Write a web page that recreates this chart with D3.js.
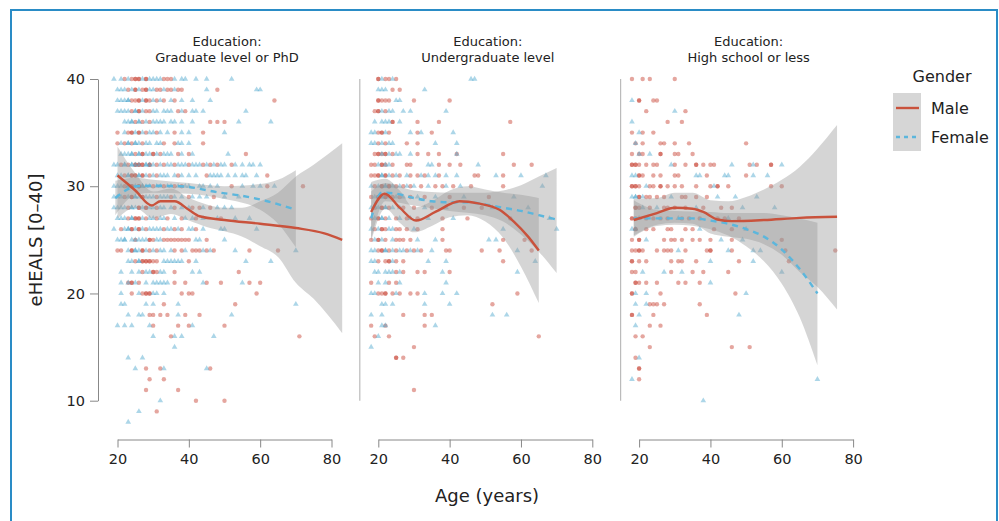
<!DOCTYPE html>
<html>
<head>
<meta charset="utf-8">
<script src="https://cdn.jsdelivr.net/npm/d3@7"></script>
<style>
  body { margin: 0; background: #fff; }
  svg text { font-family: "DejaVu Sans", sans-serif; fill: #222; }
</style>
</head>
<body>
<svg id="chart" width="999" height="521"></svg>
<script>
// panels / facets
const panelTitles = ["Graduate level or PhD", "Undergraduate level", "High school or less"];
const xTicks = [20, 40, 60, 80];
const yTicks = [10, 20, 30, 40];

// scatter rows: [eHEALS score, [ages]] (repeated ages = several respondents)
const gradMale = [
  [40, [22, 24, 25, 25, 26, 26, 28, 28, 33, 34, 35]],
  [39, [23, 25, 25, 27, 28, 28, 31, 32, 34, 35, 37, 38, 48]],
  [38, [24, 25, 26, 26, 28, 28, 29, 31, 33, 36, 64]],
  [37, [24, 26, 26, 28, 29, 37, 39]],
  [36, [25, 27, 29, 46, 48, 50]],
  [35, [20, 23, 24, 24, 26, 26, 28, 31, 36, 44]],
  [34, [20, 22, 24, 27, 33, 36, 44]],
  [33, [25, 27, 27, 30, 30, 32, 37, 40, 56]],
  [32, [21, 23, 25, 25, 26, 26, 27, 27, 29, 29, 31, 33, 36, 40, 44, 46, 48, 52]],
  [31, [22, 24, 24, 25, 25, 27, 27, 29, 31, 37, 45, 62]],
  [30, [22, 24, 24, 26, 26, 30, 33, 36, 38, 52, 62, 72]],
  [29, [22, 24, 24, 27, 27, 31, 35, 40, 47]],
  [28, [23, 26, 26, 28, 28, 31, 36, 41, 43, 46]],
  [27, [23, 25, 25, 26, 26, 28, 31, 34, 38, 42, 49]],
  [26, [21, 24, 24, 26, 26, 28, 33, 36, 38, 42]],
  [25, [25, 29, 29, 30, 33, 34, 35, 36, 37, 38, 39, 40, 45]],
  [24, [20, 21, 24, 24, 27, 27, 29, 31, 36, 38, 41, 42, 43, 45, 47, 57, 65]],
  [23, [25, 27, 27, 28, 28, 29, 29, 30, 31, 40]],
  [22, [27, 30, 30, 31, 36, 54]],
  [21, [23, 24, 24, 26, 36, 39, 45, 49, 57, 60]],
  [20, [24, 27, 28, 28, 29, 29, 38, 40, 41, 59]],
  [19, [33, 53]],
  [18, [29, 30, 32, 34, 39, 43]],
  [17, [30, 37, 40, 50]],
  [16, [35, 71]],
  [13, [28, 32, 46]],
  [12, [29, 33]],
  [11, [28, 37]],
  [10, [42, 50]],
  [9, [31]]
];
const gradFemale = [
  [40, [19, 21, 23, 27, 29, 30, 31, 32, 36, 38, 39, 42, 45, 52]],
  [39, [20, 21, 22, 24, 26, 29, 30, 33, 36, 45, 59, 60]],
  [38, [20, 21, 22, 23, 23, 27, 30, 32, 35, 38, 41, 46]],
  [37, [20, 21, 22, 23, 25, 25, 27, 30, 31, 33, 34, 35, 38, 41, 42, 44, 56]],
  [36, [22, 23, 24, 24, 26, 26, 28, 30, 31, 32, 33, 35, 36, 38, 41, 54, 63]],
  [35, [22, 25, 27, 29, 30, 32, 34, 38, 40, 50]],
  [34, [21, 23, 23, 25, 25, 26, 28, 29, 31, 32, 37, 38, 40]],
  [33, [21, 22, 23, 24, 24, 26, 26, 28, 29, 31, 33, 34, 35, 38, 41, 51]],
  [32, [19, 20, 22, 22, 24, 24, 25, 26, 28, 28, 29, 30, 32, 34, 35, 37, 38, 39, 41, 42, 43, 45, 47, 49, 50, 53, 55, 57, 58, 60]],
  [31, [20, 21, 23, 23, 26, 26, 28, 30, 32, 33, 34, 36, 38, 40, 42, 46, 47, 48, 49, 51, 53, 55, 56, 59]],
  [30, [19, 20, 21, 23, 23, 25, 27, 27, 28, 29, 31, 32, 34, 35, 37, 39, 40, 43, 44, 46, 48, 55, 58, 60, 64]],
  [29, [19, 20, 21, 23, 25, 25, 26, 28, 29, 30, 32, 33, 34, 36, 38, 41, 43, 45, 50, 54]],
  [28, [19, 20, 21, 22, 24, 24, 25, 27, 29, 30, 32, 33, 35, 38, 40, 44, 48, 50, 52]],
  [27, [20, 21, 22, 24, 24, 27, 29, 30, 32, 33, 36, 39, 41, 44, 48, 53, 57]],
  [26, [19, 22, 23, 23, 25, 27, 29, 30, 31, 32, 34, 35, 37, 40, 41, 44, 49, 50, 59]],
  [25, [20, 21, 22, 22, 24, 25, 26, 27, 28, 31, 32, 42, 43, 50]],
  [24, [23, 25, 25, 26, 28, 30, 32, 33, 35, 39, 44, 46, 53, 70]],
  [23, [23, 24, 26, 26, 33, 34, 35, 36, 37, 38, 42, 56, 63]],
  [22, [21, 24, 26, 28, 29, 32, 33, 41, 43]],
  [21, [21, 23, 25, 28, 30, 31, 32, 33, 34, 44, 55]],
  [20, [21, 26, 30, 31, 33]],
  [19, [21, 22, 28, 30, 37, 70]],
  [18, [23, 26, 27, 37, 52]],
  [17, [20, 22, 24, 29, 41]],
  [16, [30, 36, 38, 47]],
  [15, [36]],
  [14, [23, 27]],
  [13, [25, 33, 45]],
  [10, [32]],
  [9, [26]],
  [8, [23]]
];
const underMale = [
  [40, [20, 20, 22, 23, 25]],
  [39, [24, 26]],
  [38, [20, 20, 21, 22, 23, 30, 40]],
  [37, [19, 20, 20, 22]],
  [36, [24, 24, 31, 37, 57]],
  [35, [20, 21, 21, 23, 31, 35]],
  [34, [20, 22, 28, 31]],
  [33, [19, 20, 20, 21, 22, 22, 24, 31, 34, 37, 42, 55]],
  [32, [18, 19, 21, 21, 22, 24, 28, 29, 37, 40, 43, 58, 63]],
  [31, [18, 19, 20, 20, 22, 22, 24, 26, 29, 31, 33, 37, 47, 48, 55]],
  [30, [19, 21, 21, 23, 23, 25, 27, 29, 32, 36, 38, 41, 46, 55]],
  [29, [18, 20, 20, 22, 22, 24, 26, 29, 33, 40, 51]],
  [28, [19, 21, 21, 23, 27, 30, 35, 44, 49]],
  [27, [18, 20, 20, 22, 25, 28, 31, 38, 45, 57]],
  [26, [19, 21, 21, 22, 25, 26, 28, 31, 38]],
  [25, [18, 20, 20, 22, 25, 26, 27, 29, 38, 55, 61]],
  [24, [20, 21, 21, 23, 25, 28, 30, 32, 39, 40, 49, 54, 63]],
  [23, [20, 22, 23, 23, 25, 27, 55]],
  [22, [25, 27, 31, 33, 40]],
  [21, [18, 23, 25]],
  [20, [20, 21, 22, 22, 24, 26, 29, 31, 59]],
  [19, [52]],
  [18, [27, 33, 35]],
  [17, [18, 22, 33]],
  [16, [19, 23, 65]],
  [15, [30]],
  [14, [25, 25, 27]],
  [11, [30]]
];
const underFemale = [
  [40, [21, 24, 46, 47]],
  [39, [20, 21, 22, 33]],
  [38, [25, 26]],
  [37, [21, 23, 24, 27, 29, 39]],
  [36, [19, 21, 22, 23, 26]],
  [35, [18, 19, 22, 29, 32, 41]],
  [34, [18, 19, 21, 23, 24, 36, 42]],
  [33, [21, 23, 25, 26, 29, 42]],
  [32, [20, 22, 23, 34, 35, 48]],
  [31, [21, 21, 23, 25, 28, 32, 34, 36, 39, 42, 53, 60, 67]],
  [30, [18, 20, 22, 22, 24, 26, 28, 30, 34, 39, 43, 66]],
  [29, [19, 21, 21, 23, 25, 27, 31, 36, 44, 58]],
  [28, [18, 20, 22, 22, 24, 26, 33, 39, 52, 62]],
  [27, [19, 21, 21, 23, 26, 29, 34, 41, 68]],
  [26, [18, 20, 23, 24, 30, 55, 70]],
  [25, [19, 21, 24, 31, 36, 51, 53]],
  [24, [18, 19, 22, 22, 24, 26, 27, 29, 31, 35, 59]],
  [23, [18, 19, 24, 34, 39, 64]],
  [22, [19, 20, 22, 23, 24, 26, 38, 59]],
  [21, [20, 22, 26, 39]],
  [20, [18, 19, 25, 33, 38, 42]],
  [19, [21, 22, 24, 33, 40]],
  [18, [18, 21, 52, 56]],
  [17, [21, 22, 36]],
  [16, [20]],
  [15, [18]]
];
const highMale = [
  [40, [18, 21, 23, 30]],
  [38, [20, 20, 24, 25]],
  [37, [22, 33]],
  [36, [28, 32]],
  [35, [18, 21, 24]],
  [34, [19, 21, 26, 27, 30, 34, 50]],
  [33, [18, 20, 21, 26, 26, 30, 31, 35]],
  [32, [18, 18, 19, 19, 20, 22, 24, 25, 30, 33, 36, 36, 38, 40, 41, 51, 53, 57, 57]],
  [31, [20, 20, 21, 24, 26, 30, 31, 39, 50]],
  [30, [18, 18, 19, 19, 20, 23, 24, 26, 26, 28, 30, 32, 36, 40, 42, 42, 45, 57, 60]],
  [29, [20, 20, 22, 23, 25, 27, 32, 33, 36, 39]],
  [28, [19, 19, 20, 23, 27, 28, 30, 33, 38, 43, 46]],
  [27, [18, 18, 19, 22, 24, 26, 28, 32, 34, 37, 42, 44, 48]],
  [26, [19, 19, 22, 24, 28, 29, 33, 35, 41, 46]],
  [25, [18, 20, 20, 27, 29, 30, 32, 35, 37, 40, 46, 60]],
  [24, [18, 19, 20, 20, 21, 25, 27, 28, 29, 33, 39, 40, 40, 46, 61, 75]],
  [23, [18, 18, 20, 22, 29, 31, 32, 36, 48, 62]],
  [22, [18, 19, 29, 35, 38, 45]],
  [21, [19, 19, 20, 22, 25, 31, 33, 37]],
  [20, [18, 18, 26, 47]],
  [19, [23, 24, 25, 27, 37]],
  [18, [18, 18, 24, 39]],
  [17, [23, 26]],
  [16, [19, 21]],
  [15, [23, 46, 51]],
  [14, [19]],
  [13, [20, 20]],
  [12, [20]]
];
const highFemale = [
  [38, [18]],
  [37, [30]],
  [36, [18]],
  [35, [20]],
  [34, [19]],
  [33, [20, 23]],
  [32, [29, 46, 52, 60]],
  [31, [18, 19, 36, 37, 44, 45, 52, 56]],
  [30, [22, 41]],
  [29, [18, 19, 19, 21, 29, 42, 47, 53]],
  [28, [21, 25, 36, 49, 58]],
  [27, [20, 31, 45]],
  [26, [18, 19, 37, 50]],
  [25, [22, 43, 49]],
  [24, [31, 45, 52, 54]],
  [23, [40, 52]],
  [22, [21, 27, 32, 60]],
  [21, [40]],
  [20, [19, 22, 50]],
  [19, [19, 22]],
  [18, [20, 48]],
  [17, [19]],
  [14, [20]],
  [12, [18, 70]],
  [10, [38]]
];

// smooth fits: [age, fit] and confidence bands: [age, lower, upper]
const gradMaleFit = [[20, 31], [25, 29.6], [29.6, 28.2], [32, 28.6], [36, 28.6], [40, 27.8], [43, 27.2], [50, 26.85], [60, 26.5], [70, 26.1], [78, 25.6], [83, 25]];
const gradMaleBand = [[20, 27, 33.7], [25, 28, 31.2], [30, 27, 29.5], [35, 27.4, 29.8], [40, 26.8, 28.9], [45, 26.2, 28.3], [50, 25.8, 28], [55, 25.3, 28], [60, 24.4, 28.6], [65, 23.4, 29.4], [70, 21, 30.9], [75, 19.5, 32], [83, 16.3, 34]];
const gradFemaleFit = [[19.4, 28.9], [25.4, 30], [30, 30.05], [37.6, 30], [48.8, 29.4], [55, 29.1], [62, 28.6], [70, 27.8]];
const gradFemaleBand = [[19.4, 27.3, 30.5], [25, 29.2, 30.8], [30, 29.4, 30.6], [40, 29.3, 30.3], [50, 28.8, 30], [60, 27.8, 30.2], [65, 26.5, 30.6], [70, 24.3, 31.5]];
const underMaleFit = [[18, 27.6], [21.8, 29.3], [26, 28], [30.6, 26.8], [36, 27.6], [42.8, 28.6], [48, 28.4], [54, 27.8], [58, 26.7], [62, 25.3], [65, 24]];
const underMaleBand = [[18, 24.8, 30.4], [22, 27.9, 30.7], [26, 26.6, 29.6], [30, 25.7, 28], [35, 26.3, 28.6], [40, 27.1, 29.6], [45, 27.3, 30], [50, 26.7, 29.7], [55, 25.2, 29.4], [60, 22.5, 29.2], [65, 19.1, 28.9]];
const underFemaleFit = [[18, 27], [21, 29.4], [25, 29.3], [30, 28.9], [35, 28.6], [40, 28.5], [45, 28.5], [50, 28.3], [55, 28], [60, 27.7], [65, 27.3], [70, 26.9]];
const underFemaleBand = [[18, 25, 29.5], [22, 28.6, 30.3], [30, 28.2, 29.6], [40, 27.7, 29.4], [50, 27.3, 29.4], [55, 26.7, 29.6], [60, 25.5, 30.1], [65, 23.9, 30.9], [70, 21.9, 31.7]];
const highMaleFit = [[18.5, 26.85], [25, 27.5], [30, 28], [35, 27.9], [38, 27.6], [42, 26.9], [46, 26.75], [55, 26.85], [65, 27.05], [75.5, 27.15]];
const highMaleBand = [[18.5, 25.4, 28.8], [25, 26.4, 28.9], [30, 26.6, 29.4], [35, 26.5, 29.4], [40, 25.6, 28.7], [45, 25.3, 28.6], [50, 25.1, 29], [55, 24.6, 29.7], [60, 23.6, 30.6], [65, 22, 31.8], [70, 20.6, 33.5], [75.5, 18.5, 35.7]];
const highFemaleFit = [[18.5, 27], [25, 27], [30, 27], [35, 27], [40, 26.8], [45, 26.5], [50, 26], [55, 25.3], [60, 24.1], [65, 22.3], [70, 20]];
const highFemaleBand = [[18.5, 25.3, 28.7], [25, 26.3, 27.8], [30, 26.4, 27.7], [40, 26, 27.6], [45, 25.4, 27.5], [50, 24.4, 27.5], [55, 23, 27.5], [60, 20.9, 27.3], [65, 17.8, 27], [70, 13.3, 26.6]];

const panelData = [
  { male: gradMale, female: gradFemale, mFit: gradMaleFit, mBand: gradMaleBand, fFit: gradFemaleFit, fBand: gradFemaleBand },
  { male: underMale, female: underFemale, mFit: underMaleFit, mBand: underMaleBand, fFit: underFemaleFit, fBand: underFemaleBand },
  { male: highMale, female: highFemale, mFit: highMaleFit, mBand: highMaleBand, fFit: highFemaleFit, fBand: highFemaleBand }
];

const svg = d3.select("#chart");

// frame
svg.append("path")
  .attr("d", "M11,521 V10 H997 V521")
  .attr("fill", "none")
  .attr("stroke", "#2a8cc6")
  .attr("stroke-width", 2);

const panelLeft0 = 97, panelStep = 260.8, panelW = 258;
const y = d3.scaleLinear().domain([10, 40]).range([400.7, 79]);
const x = d3.scaleLinear().domain([20, 80]).range([20.5, 234.5]);

const maleDot = "rgba(200,66,50,0.47)";
const femaleDot = "rgba(70,165,205,0.45)";
const bandFill = "rgba(150,150,150,0.4)";
const maleLine = "#c9523c";
const femaleLine = "#5cb6dc";

const tri = d3.symbol().type(d3.symbolTriangle).size(14);
const toPoints = rows => rows.flatMap(([s, ages]) => ages.map(a => ({ age: a, score: s })));

panelData.forEach((pd, i) => {
  const g = svg.append("g").attr("transform", `translate(${panelLeft0 + i * panelStep},0)`);

  // title
  const t = g.append("text")
    .attr("text-anchor", "middle")
    .attr("font-size", 13)
    .attr("fill", "#333");
  t.append("tspan").attr("x", panelW / 2 + 1).attr("y", 46).text("Education:");
  t.append("tspan").attr("x", panelW / 2 + 1).attr("y", 62).text(panelTitles[i]);

  // y axis (first panel full, others plain line)
  if (i === 0) {
    const ya = g.append("g").attr("transform", "translate(1,0)")
      .call(d3.axisLeft(y).tickValues(yTicks).tickSize(8).tickSizeOuter(0).tickPadding(5));
    ya.select(".domain").attr("stroke", "#888");
    ya.selectAll(".tick line").attr("stroke", "#888");
    ya.selectAll(".tick text").attr("font-size", 14.5).attr("fill", "#222")
      .attr("font-family", "DejaVu Sans, sans-serif");
  } else {
    g.append("line")
      .attr("x1", 2).attr("x2", 2)
      .attr("y1", y(40)).attr("y2", y(10))
      .attr("stroke", "#bbb").attr("stroke-width", 1.2);
  }

  // x axis
  const xa = g.append("g").attr("transform", "translate(0,439.5)")
    .call(d3.axisBottom(x).tickValues(xTicks).tickSize(8).tickSizeOuter(0).tickPadding(6));
  xa.select(".domain").attr("stroke", "#888");
  xa.selectAll(".tick line").attr("stroke", "#888");
  xa.selectAll(".tick text").attr("font-size", 14.5).attr("fill", "#222")
    .attr("font-family", "DejaVu Sans, sans-serif");

  // points
  g.append("g").selectAll("circle")
    .data(toPoints(pd.male))
    .join("circle")
    .attr("cx", d => x(d.age))
    .attr("cy", d => y(d.score))
    .attr("r", 2.2)
    .attr("fill", maleDot);
  g.append("g").selectAll("path")
    .data(toPoints(pd.female))
    .join("path")
    .attr("d", tri)
    .attr("transform", d => `translate(${x(d.age)},${y(d.score)})`)
    .attr("fill", femaleDot);

  // confidence bands
  const area = d3.area()
    .x(d => x(d[0])).y0(d => y(d[1])).y1(d => y(d[2]))
    .curve(d3.curveMonotoneX);
  g.append("path").attr("d", area(pd.mBand)).attr("fill", bandFill);
  g.append("path").attr("d", area(pd.fBand)).attr("fill", bandFill);

  // fitted lines
  const line = d3.line().x(d => x(d[0])).y(d => y(d[1])).curve(d3.curveMonotoneX);
  g.append("path").attr("d", line(pd.fFit))
    .attr("fill", "none").attr("stroke", femaleLine)
    .attr("stroke-width", 2.4).attr("stroke-dasharray", "6,5");
  g.append("path").attr("d", line(pd.mFit))
    .attr("fill", "none").attr("stroke", maleLine)
    .attr("stroke-width", 2.4);
});

// axis titles
svg.append("text")
  .attr("x", 487).attr("y", 502)
  .attr("text-anchor", "middle")
  .attr("font-size", 18)
  .text("Age (years)");
svg.append("text")
  .attr("transform", "translate(42,240) rotate(-90)")
  .attr("text-anchor", "middle")
  .attr("font-size", 18)
  .text("eHEALS [0\u201340]");

// legend
const legend = svg.append("g");
legend.append("text")
  .attr("x", 942).attr("y", 82)
  .attr("text-anchor", "middle")
  .attr("font-size", 16)
  .text("Gender");
const keys = [
  { label: "Male", color: maleLine, dash: null },
  { label: "Female", color: femaleLine, dash: "4,4" }
];
keys.forEach((k, j) => {
  const yy = 108 + j * 29;
  legend.append("rect")
    .attr("x", 893).attr("y", yy - 15)
    .attr("width", 28).attr("height", 29)
    .attr("fill", "#d6d6d6");
  legend.append("line")
    .attr("x1", 896).attr("x2", 919)
    .attr("y1", yy).attr("y2", yy)
    .attr("stroke", k.color).attr("stroke-width", 2.4)
    .attr("stroke-dasharray", k.dash);
  legend.append("text")
    .attr("x", 931).attr("y", yy + 6)
    .attr("font-size", 16)
    .text(k.label);
});
</script>
</body>
</html>
